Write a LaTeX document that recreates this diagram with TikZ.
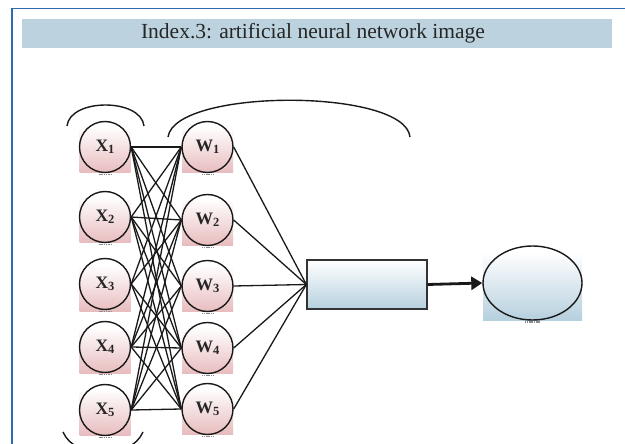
\documentclass[tikz,border=0pt]{standalone}
\usepackage{fontspec}
\setmainfont{Liberation Serif}
\usetikzlibrary{arrows.meta,shapes.geometric}
\definecolor{framec}{HTML}{2F6AAE}
\definecolor{bandc}{HTML}{BCD3DF}
\definecolor{pinkc}{HTML}{E8BCBE}
\definecolor{bluec}{HTML}{B6D0DE}
\tikzset{
  pinkbox/.style={draw=none, minimum width=51pt, minimum height=46pt, inner sep=0pt, top color=white, bottom color=pinkc},
  neuron/.style={circle, draw=black!90, line width=1.4pt, minimum size=51pt, inner sep=0pt, font=\bfseries\fontsize{17.5}{17.5}\selectfont, text=black!85},
  link/.style={draw=black!90, line width=1.3pt},
  wavy/.style={draw=black!90, line width=1.4pt},
  smear/.style={draw=black!45, line width=1.2pt, dash pattern=on 1.5pt off 0.8pt},
}
\newcommand{\subidx}[1]{\raisebox{-0.3ex}{\fontsize{12.5}{12.5}\selectfont #1}}
\begin{document}
\begin{tikzpicture}[x=1pt,y=-1pt]
\useasboundingbox (0,0) rectangle (625,444);
\clip (0,0) rectangle (625,444);
% frame
\draw[framec, line width=1.6pt] (12,444) -- (12,8.5) -- (626,8.5);
% title band
\fill[bandc] (22,19) rectangle (612,48);
\node[font=\fontsize{21.5}{24}\selectfont, text=black!85] (title) at (313,33.5) {Index.3: artificial neural network image};
% shaded backgrounds
\foreach \i/\y in {1/149.5,2/219.5,3/288.5,4/350,5/412}{
  \node[pinkbox] (xb\i) at (105,\y) {};
}
\foreach \i/\y in {1/149.5,2/222,3/288.5,4/350.5,5/411}{
  \node[pinkbox] (wb\i) at (207.5,\y) {};
}
% neurons
\foreach \i/\y in {1/147,2/217,3/284,4/347,5/410}{
  \node[neuron] (x\i) at (105,\y) {X\subidx{\i}};
  \draw[smear] ([xshift=-6pt,yshift=-1.2pt]x\i.south) -- ([xshift=6pt,yshift=-1.2pt]x\i.south);
}
\foreach \i/\y in {1/147,2/220,3/286,4/348,5/409}{
  \node[neuron] (w\i) at (207.5,\y) {W\subidx{\i}};
  \draw[smear] ([xshift=-6pt,yshift=-1.2pt]w\i.south) -- ([xshift=6pt,yshift=-1.2pt]w\i.south);
}
% links input->hidden
\foreach \i in {1,...,5}{
  \foreach \j in {1,...,5}{
    \ifnum\i=3 \ifnum\j=3 \else \draw[link] (x\i.east) -- (w\j.west); \fi
    \else \draw[link] (x\i.east) -- (w\j.west); \fi
  }
}
% summation box
\node[draw=black!80, line width=1.3pt, minimum width=120pt, minimum height=49pt, inner sep=0pt, top color=white, bottom color=bluec] (sum) at (367,284.5) {};
\foreach \i in {1,...,5}{ \draw[link] (w\i.east) -- (sum.west); }
% output
\node[draw=none, minimum width=99pt, minimum height=68pt, inner sep=0pt, top color=white, bottom color=bluec] (ob) at (532.5,286) {};
\node[ellipse, draw=black!90, line width=1.4pt, minimum width=99pt, minimum height=74pt, inner sep=0pt] (out) at (532.5,283) {};
\draw[smear] ([xshift=-8pt,yshift=-1.2pt]out.south) -- ([xshift=8pt,yshift=-1.2pt]out.south);
\draw[black!90, line width=2.8pt, -{Triangle[length=11pt,width=13pt]}] (sum.east) -- (out.west);
% brackets
\draw[wavy] (67,126) .. controls (70,98) and (141,98) .. (144,126);
\draw[wavy] (168,137) .. controls (175,88) and (405,88) .. (410,137);
\draw[wavy] (63,432) .. controls (75,460) and (131,460) .. (143,432);
\end{tikzpicture}
\end{document}
